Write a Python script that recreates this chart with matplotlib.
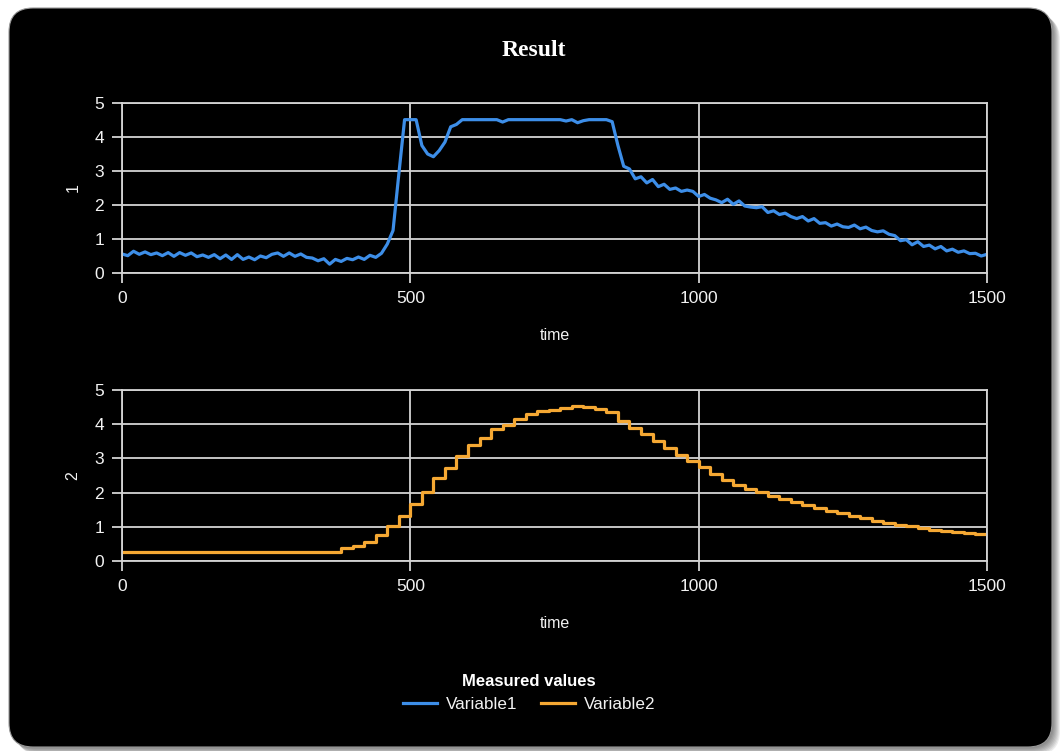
import numpy as np
import matplotlib
matplotlib.use("Agg")
import matplotlib.pyplot as plt
from matplotlib.patches import FancyBboxPatch
from matplotlib.lines import Line2D

plt.rcParams['font.family'] = ['Liberation Sans', 'DejaVu Sans']

# Variable1: sampled every 10 time units
time1 = np.arange(0, 1501, 10)
variable1 = [
    0.56, 0.51, 0.64, 0.55, 0.62, 0.54, 0.59, 0.51, 0.60, 0.49,
    0.60, 0.52, 0.59, 0.48, 0.53, 0.46, 0.54, 0.42, 0.53, 0.40,
    0.54, 0.40, 0.47, 0.39, 0.50, 0.45, 0.55, 0.59, 0.49, 0.59,
    0.49, 0.56, 0.46, 0.44, 0.36, 0.42, 0.26, 0.40, 0.34, 0.43,
    0.39, 0.47, 0.40, 0.52, 0.46, 0.58, 0.85, 1.25, 2.90, 4.51,
    4.51, 4.51, 3.75, 3.50, 3.42, 3.60, 3.85, 4.30, 4.37, 4.51,
    4.51, 4.51, 4.51, 4.51, 4.51, 4.51, 4.44, 4.51, 4.51, 4.51,
    4.51, 4.51, 4.51, 4.51, 4.51, 4.51, 4.51, 4.47, 4.51, 4.42,
    4.48, 4.51, 4.51, 4.51, 4.51, 4.45, 3.75, 3.14, 3.06, 2.77,
    2.83, 2.65, 2.75, 2.54, 2.61, 2.46, 2.50, 2.40, 2.44, 2.40,
    2.25, 2.31, 2.20, 2.15, 2.07, 2.17, 2.02, 2.12, 1.97, 1.94,
    1.92, 1.95, 1.78, 1.83, 1.72, 1.76, 1.66, 1.60, 1.66, 1.53,
    1.60, 1.46, 1.48, 1.38, 1.44, 1.36, 1.34, 1.41, 1.30, 1.35,
    1.25, 1.21, 1.24, 1.14, 1.10, 0.95, 0.98, 0.83, 0.92, 0.78,
    0.82, 0.71, 0.78, 0.65, 0.70, 0.61, 0.65, 0.57, 0.58, 0.50,
    0.55,
]

# Variable2: held value, updated every 20 time units
time2 = np.arange(0, 1501, 20)
variable2 = [
    0.25, 0.25, 0.25, 0.25, 0.25, 0.25, 0.25, 0.25, 0.25, 0.25,
    0.25, 0.25, 0.25, 0.25, 0.25, 0.25, 0.25, 0.25, 0.25, 0.37,
    0.45, 0.55, 0.76, 1.01, 1.32, 1.67, 2.02, 2.43, 2.72, 3.06,
    3.39, 3.60, 3.85, 3.99, 4.14, 4.29, 4.38, 4.42, 4.47, 4.52,
    4.51, 4.43, 4.36, 4.10, 3.90, 3.70, 3.50, 3.31, 3.10, 2.91,
    2.74, 2.55, 2.37, 2.21, 2.10, 2.01, 1.91, 1.81, 1.72, 1.64,
    1.56, 1.47, 1.39, 1.32, 1.25, 1.16, 1.10, 1.05, 1.01, 0.96,
    0.92, 0.88, 0.84, 0.82, 0.80, 0.78,
]

x_ticks = [0, 500, 1000, 1500]
y_ticks = [0, 1, 2, 3, 4, 5]
blue = '#3d8ee8'
orange = '#f5a833'
grid_col = '#d4d4d4'

W, H = 1062, 751
fig = plt.figure(figsize=(W / 100, H / 100), dpi=100, facecolor='white')

# rounded black panel with a soft shadow, drawn in pixel units
bg = fig.add_axes([0, 0, 1, 1], zorder=-1)
bg.set_xlim(0, W)
bg.set_ylim(H, 0)
bg.axis('off')
for i in range(1, 9):
    bg.add_patch(FancyBboxPatch((9 + i, 8 + i), 1043, 739,
                                boxstyle='round,pad=0,rounding_size=24',
                                facecolor='#000000', edgecolor='none', alpha=0.07))
bg.add_patch(FancyBboxPatch((9, 8), 1043, 739,
                            boxstyle='round,pad=0,rounding_size=24',
                            facecolor='#000000', edgecolor='#9a9a9a', linewidth=0.8))

fig.text(534 / W, 1 - 50 / H, 'Result', color='white', fontsize=17,
         fontweight='bold', family='Liberation Serif', ha='center', va='center')


def style_axes(ax, ylabel):
    ax.set_facecolor('black')
    ax.set_xlim(0, 1500)
    ax.set_ylim(0, 5)
    ax.set_xticks(x_ticks)
    ax.set_yticks(y_ticks)
    ax.grid(True, color=grid_col, linewidth=1.3)
    for s in ax.spines.values():
        s.set_color(grid_col)
        s.set_linewidth(1.3)
    ax.tick_params(colors=grid_col, length=7, width=1.3, labelsize=12.5,
                   labelcolor='#f2f2f2', pad=6)
    ax.set_xlabel('time', color='#f2f2f2', fontsize=11.5, labelpad=16)
    ax.set_ylabel(ylabel, color='#f2f2f2', fontsize=11.5, labelpad=10)


ax1 = fig.add_axes([122 / W, 1 - 273 / H, 865 / W, 170 / H])
ax1.plot(time1, variable1, color=blue, linewidth=2.3, solid_joinstyle='round')
style_axes(ax1, '1')

ax2 = fig.add_axes([122 / W, 1 - 561 / H, 865 / W, 171 / H])
ax2.step(time2, variable2, where='post', color=orange, linewidth=2.3)
style_axes(ax2, '2')

handles = [Line2D([], [], color=blue, linewidth=2.3),
           Line2D([], [], color=orange, linewidth=2.3)]
leg = fig.legend(handles, ['Variable1', 'Variable2'], loc='center',
                 bbox_to_anchor=(529 / W, 1 - 693 / H), ncol=2, frameon=False,
                 fontsize=12.3, handlelength=2.0, handletextpad=0.5,
                 columnspacing=1.4, title='Measured values',
                 title_fontproperties={'weight': 'bold', 'size': 12})
leg.get_title().set_color('white')
for t in leg.get_texts():
    t.set_color('#f2f2f2')

fig.savefig('out.png', dpi=100, facecolor='white')
